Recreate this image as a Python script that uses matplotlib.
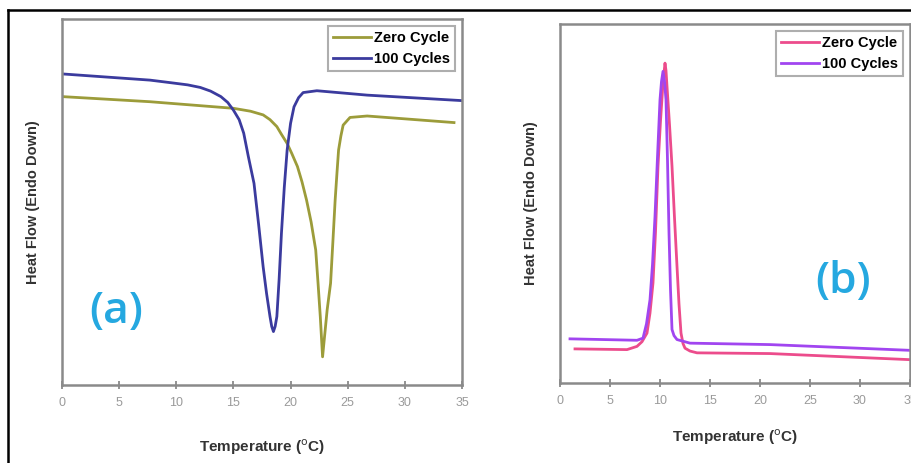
import matplotlib.pyplot as plt
from matplotlib.lines import Line2D

plt.rcParams['font.family'] = ['Liberation Sans', 'DejaVu Sans']

# panel (a): DSC heating, heat flow in arbitrary units
a_zero_t = [0, 7.7, 15.0, 16.5, 17.6, 18.2, 18.8, 19.2, 19.7, 20.1, 20.6, 21.0,
            21.4, 21.8, 22.2, 22.4, 22.6, 22.8, 23.0, 23.2, 23.5, 23.7, 23.9, 24.05,
            24.2, 24.4, 24.6, 25.2, 26.7, 34.3]
a_zero_hf = [78.8, 77.4, 75.6, 74.8, 73.8, 72.5, 70.6, 68.5, 66.0, 63.3, 59.7, 55.5,
             50.5, 44.5, 36.9, 28.0, 18.7, 7.7, 14.1, 20.5, 27.8, 39.0, 50.5, 57.5,
             64.2, 68.0, 71.0, 73.1, 73.5, 71.7]
a_100_t = [0, 7.7, 9.5, 11.0, 12.1, 13.0, 13.9, 14.5, 15.0, 15.5, 15.9, 16.3,
           16.8, 17.2, 17.6, 17.9, 18.2, 18.35, 18.5, 18.65, 18.8, 19.0, 19.2, 19.45,
           19.7, 20.0, 20.3, 20.7, 21.1, 22.3, 26.7, 35.0]
a_100_hf = [85.0, 83.3, 82.6, 82.0, 81.3, 80.3, 78.8, 77.2, 75.1, 72.5, 68.8, 62.5,
            55.1, 44.0, 32.3, 25.0, 18.7, 16.0, 14.6, 16.0, 18.7, 29.0, 41.4, 54.0,
            64.2, 71.5, 76.0, 78.5, 79.9, 80.4, 79.2, 77.7]

# panel (b): DSC cooling
b_zero_t = [1.5, 6.7, 7.7, 8.2, 8.7, 9.0, 9.3, 9.55, 9.8, 10.05, 10.3, 10.5,
            10.6, 10.7, 10.95, 11.2, 11.45, 11.7, 11.9, 12.1, 12.3, 12.5, 13.0, 13.7,
            21.0, 35.0]
b_zero_hf = [9.5, 9.3, 10.2, 11.5, 13.9, 19.5, 27.9, 42.0, 60.4, 73.0, 83.6, 89.1,
             87.0, 82.6, 72.0, 60.4, 46.0, 32.5, 22.0, 13.9, 11.0, 9.7, 8.9, 8.4,
             8.2, 6.5]
b_100_t = [1.0, 7.7, 8.3, 8.65, 9.0, 9.25, 9.5, 9.75, 10.0, 10.15, 10.3, 10.45,
           10.6, 10.75, 10.9, 11.05, 11.2, 11.4, 11.7, 13.0, 21.0, 35.0]
b_100_hf = [12.3, 11.9, 12.5, 16.5, 23.2, 33.0, 46.4, 63.0, 78.9, 84.0, 86.8, 84.0,
            78.9, 62.0, 41.8, 26.0, 14.9, 13.2, 12.1, 11.1, 10.7, 9.1]

x_ticks = [0, 5, 10, 15, 20, 25, 30, 35]
series_labels = ['Zero Cycle', '100 Cycles']

fig = plt.figure(figsize=(9.12, 4.63), dpi=100)

# black outer frame (top and left edges only are visible)
fig.add_artist(Line2D([8 / 912, 1.0], [1 - 10 / 463, 1 - 10 / 463], color='black', lw=1.8))
fig.add_artist(Line2D([8 / 912, 8 / 912], [0, 1 - 10 / 463], color='black', lw=1.8))

ax_a = fig.add_axes([62 / 912, 78 / 463, 400 / 912, 366 / 463])
ax_b = fig.add_axes([560 / 912, 80 / 463, 350 / 912, 359 / 463])


def style(ax):
    ax.set_xlim(0, 35)
    ax.set_ylim(0, 100)
    ax.set_xticks(x_ticks)
    ax.set_yticks([])
    for s in ax.spines.values():
        s.set_color('#8a8a8a')
        s.set_linewidth(1.8)
    ax.tick_params(axis='x', direction='inout', length=6, width=1.3, color='#8a8a8a',
                   labelsize=9, labelcolor='#9a9a9a', pad=6)


def legend(ax):
    leg = ax.legend(loc='upper right', prop={'weight': 'bold', 'size': 10.5},
                    handlelength=2.6, handletextpad=0.2, borderpad=0.35, labelspacing=0.45,
                    fancybox=False, borderaxespad=0.5)
    leg.get_frame().set_edgecolor('#9a9a9a')
    leg.get_frame().set_linewidth(1.5)


style(ax_a)
ax_a.plot(a_zero_t, a_zero_hf, color='#9c9c3a', lw=2, label=series_labels[0])
ax_a.plot(a_100_t, a_100_hf, color='#3b3b9e', lw=2, label=series_labels[1])
ax_a.text(4.7, 20, '(a)', color='#25a8e0', fontsize=32, family='Open Sans',
          weight='semibold', ha='center', va='center')
ax_a.set_ylabel('Heat Flow (Endo Down)', fontsize=10.5, weight='bold', color='#333333',
                labelpad=16)
ax_a.set_xlabel('Temperature ($^{\\rm o}$C)', fontsize=11, weight='bold', color='#333333',
                labelpad=20)
legend(ax_a)

style(ax_b)
ax_b.plot(b_zero_t, b_zero_hf, color='#ec4c8c', lw=2, label=series_labels[0])
ax_b.plot(b_100_t, b_100_hf, color='#a145f0', lw=2, label=series_labels[1])
ax_b.text(28.3, 28.3, '(b)', color='#25a8e0', fontsize=32, family='Open Sans',
          weight='semibold', ha='center', va='center')
ax_b.set_ylabel('Heat Flow (Endo Down)', fontsize=10.5, weight='bold', color='#333333',
                labelpad=16)
ax_b.set_xlabel('Temperature ($^{\\rm o}$C)', fontsize=11, weight='bold', color='#333333',
                labelpad=14)
legend(ax_b)

fig.savefig('out.png', dpi=100)
